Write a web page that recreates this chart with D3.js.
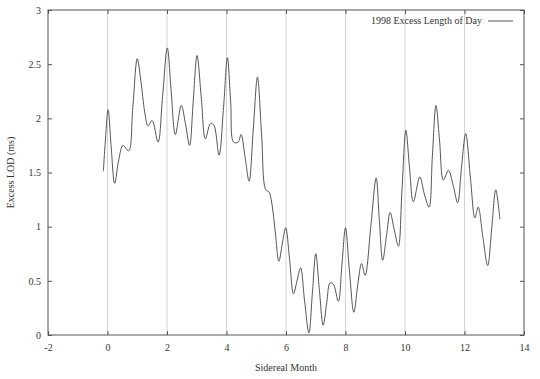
<!DOCTYPE html>
<html>
<head>
<meta charset="utf-8">
<script src="https://cdn.jsdelivr.net/npm/d3@7"></script>
<style>
  body { margin: 0; background: #fff; }
  text { font-family: "Liberation Serif", "DejaVu Serif", serif; fill: #333; }
</style>
</head>
<body>
<svg id="chart" width="540" height="379"></svg>
<script>
(function() {

  // data
  let months = [-0.14, -0.07, 0.02, 0.12, 0.24, 0.38, 0.52, 0.71, 0.85, 1.00,
                1.12, 1.25, 1.36, 1.50, 1.70, 1.85, 2.01, 2.14, 2.28, 2.48,
                2.62, 2.76, 2.88, 3.01, 3.15, 3.29, 3.46, 3.57, 3.75, 3.90,
                4.03, 4.14, 4.24, 4.39, 4.49, 4.62, 4.76, 4.90, 5.04, 5.18,
                5.32, 5.43, 5.52, 5.64, 5.76, 5.88, 5.99, 6.12, 6.25, 6.37,
                6.49, 6.63, 6.77, 6.89, 7.00, 7.12, 7.25, 7.37, 7.48, 7.59,
                7.76, 7.88, 8.00, 8.13, 8.28, 8.42, 8.54, 8.66, 8.85, 9.03,
                9.14, 9.25, 9.38, 9.50, 9.64, 9.78, 9.90, 10.03, 10.15, 10.28,
                10.50, 10.65, 10.81, 10.92, 11.04, 11.16, 11.29, 11.46, 11.62, 11.77,
                11.90, 12.04, 12.20, 12.35, 12.46, 12.62, 12.78, 12.92, 13.05, 13.19];
  let lod = [1.51, 1.80, 2.08, 1.75, 1.40, 1.62, 1.75, 1.70, 2.10, 2.55,
             2.35, 2.06, 1.93, 1.98, 1.78, 2.20, 2.65, 2.25, 1.85, 2.12,
             1.95, 1.75, 2.15, 2.58, 2.20, 1.81, 1.95, 1.94, 1.66, 2.10,
             2.56, 2.15, 1.78, 1.78, 1.85, 1.65, 1.42, 1.90, 2.38, 1.85,
             1.34, 1.32, 1.22, 0.95, 0.68, 0.85, 0.99, 0.70, 0.38, 0.50,
             0.62, 0.30, 0.02, 0.40, 0.75, 0.42, 0.09, 0.30, 0.48, 0.47,
             0.31, 0.65, 0.99, 0.60, 0.21, 0.48, 0.66, 0.55, 1.00, 1.45,
             1.05, 0.69, 0.92, 1.13, 0.97, 0.82, 1.35, 1.89, 1.55, 1.23,
             1.46, 1.30, 1.18, 1.65, 2.12, 1.80, 1.43, 1.52, 1.38, 1.22,
             1.55, 1.86, 1.45, 1.08, 1.18, 0.90, 0.64, 1.00, 1.34, 1.07];

  let xTicks = [-2, 0, 2, 4, 6, 8, 10, 12, 14];
  let yTicks = [0, 0.5, 1, 1.5, 2, 2.5, 3];
  let gridMonths = [0, 2, 4, 6, 8, 10, 12];
  let seriesName = "1998 Excess Length of Day";

  let left = 48, right = 524, top = 10, bottom = 335;
  let tickLen = 4;
  let axisColor = "#555";

  let svg = d3.select("#chart");

  let xScale = d3.scaleLinear().domain([-2, 14]).range([left, right]);
  let yScale = d3.scaleLinear().domain([0, 3]).range([bottom, top]);

  // vertical grid
  svg.selectAll(".grid")
     .data(gridMonths)
     .enter()
     .append("line")
     .attr("class", "grid")
     .attr("x1", d => xScale(d)).attr("x2", d => xScale(d))
     .attr("y1", top).attr("y2", bottom)
     .attr("stroke", "#d4d4d4")
     .attr("stroke-width", 1);

  // axes, ticks pointing inward on all sides
  let fmt = d => String(d);
  let xBottom = svg.append("g")
     .attr("transform", "translate(0," + bottom + ")")
     .call(d3.axisBottom(xScale).tickValues(xTicks).tickSize(-tickLen).tickPadding(9).tickFormat(fmt));
  let xTop = svg.append("g")
     .attr("transform", "translate(0," + top + ")")
     .call(d3.axisTop(xScale).tickValues(xTicks).tickSize(-tickLen).tickFormat(""));
  let yLeft = svg.append("g")
     .attr("transform", "translate(" + left + ",0)")
     .call(d3.axisLeft(yScale).tickValues(yTicks).tickSize(-tickLen).tickPadding(7).tickFormat(fmt));
  let yRight = svg.append("g")
     .attr("transform", "translate(" + right + ",0)")
     .call(d3.axisRight(yScale).tickValues(yTicks).tickSize(-tickLen).tickFormat(""));

  [xBottom, xTop, yLeft, yRight].forEach(g => {
    g.select(".domain").remove();
    g.selectAll("line").attr("stroke", axisColor);
    g.selectAll("text")
     .attr("font-family", "Liberation Serif, serif")
     .attr("font-size", "10px")
     .attr("fill", "#333");
  });

  // frame
  svg.append("rect")
     .attr("x", left).attr("y", top)
     .attr("width", right - left).attr("height", bottom - top)
     .attr("fill", "none")
     .attr("stroke", axisColor)
     .attr("stroke-width", 1);

  // the series
  let points = months.map((m, i) => [m, lod[i]]);
  let line = d3.line()
               .x(d => xScale(d[0]))
               .y(d => yScale(d[1]))
               .curve(d3.curveCatmullRom.alpha(0.5));
  svg.append("path")
     .datum(points)
     .attr("fill", "none")
     .attr("stroke", "#555")
     .attr("stroke-width", 1)
     .attr("d", line);

  // axis titles
  svg.append("text")
     .attr("text-anchor", "middle")
     .attr("x", (left + right) / 2)
     .attr("y", 371)
     .attr("font-size", "10px")
     .text("Sidereal Month");
  svg.append("text")
     .attr("text-anchor", "middle")
     .attr("transform", "translate(14," + ((top + bottom) / 2) + ") rotate(-90)")
     .attr("font-size", "10px")
     .text("Excess LOD (ms)");

  // legend
  svg.append("text")
     .attr("text-anchor", "end")
     .attr("x", 482)
     .attr("y", 24)
     .attr("font-size", "10px")
     .text(seriesName);
  svg.append("line")
     .attr("x1", 488).attr("x2", 513)
     .attr("y1", 21).attr("y2", 21)
     .attr("stroke", "#555")
     .attr("stroke-width", 1);

})();
</script>
</body>
</html>
